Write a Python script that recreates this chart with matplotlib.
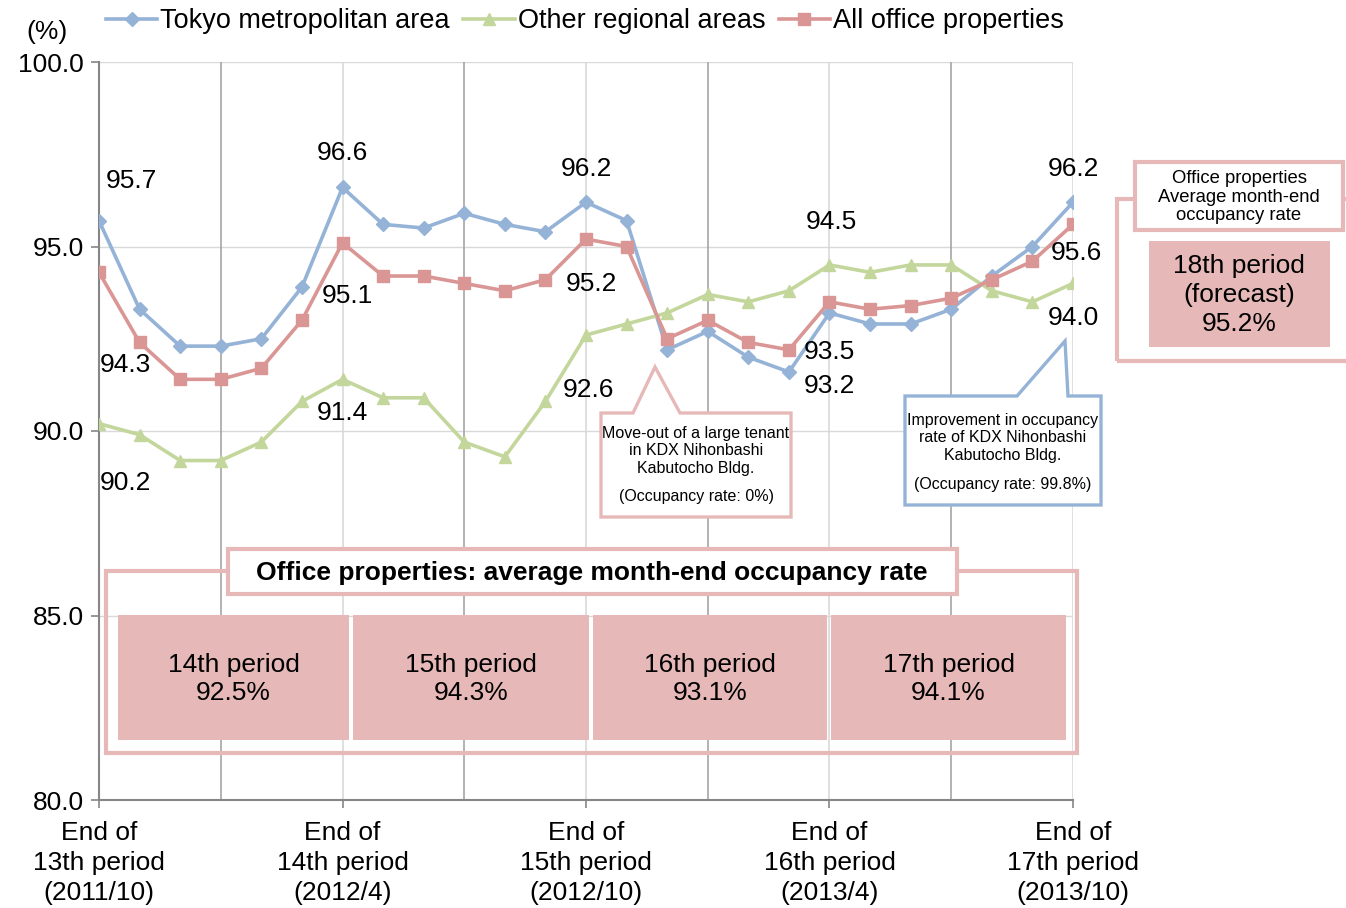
import numpy as np
import matplotlib.pyplot as plt
from matplotlib.patches import Rectangle, Polygon

plt.rcParams['font.family'] = ['Liberation Sans', 'DejaVu Sans']

# monthly data, 2011/10 .. 2013/10
tokyo = [95.7, 93.3, 92.3, 92.3, 92.5, 93.9, 96.6, 95.6, 95.5, 95.9, 95.6, 95.4, 96.2,
         95.7, 92.2, 92.7, 92.0, 91.6, 93.2, 92.9, 92.9, 93.3, 94.2, 95.0, 96.2]
regional = [90.2, 89.9, 89.2, 89.2, 89.7, 90.8, 91.4, 90.9, 90.9, 89.7, 89.3, 90.8, 92.6,
            92.9, 93.2, 93.7, 93.5, 93.8, 94.5, 94.3, 94.5, 94.5, 93.8, 93.5, 94.0]
all_office = [94.3, 92.4, 91.4, 91.4, 91.7, 93.0, 95.1, 94.2, 94.2, 94.0, 93.8, 94.1, 95.2,
              95.0, 92.5, 93.0, 92.4, 92.2, 93.5, 93.3, 93.4, 93.6, 94.1, 94.6, 95.6]
series_names = ['Tokyo metropolitan area', 'Other regional areas', 'All office properties']
xtick_labels = ['End of\n13th period\n(2011/10)', 'End of\n14th period\n(2012/4)',
                'End of\n15th period\n(2012/10)', 'End of\n16th period\n(2013/4)',
                'End of\n17th period\n(2013/10)']
periods = ['14th period', '15th period', '16th period', '17th period']
period_avg = [92.5, 94.3, 93.1, 94.1]
forecast_avg = 95.2

W, H = 1346, 908
BLUE = '#95b3d7'
GREEN = '#c3d69b'
RED = '#d99694'
PINK = '#e6b9b8'
FS = 19

fig = plt.figure(figsize=(W / 100, H / 100), dpi=100)
ax = fig.add_axes([99 / W, 1 - 800 / H, (1073 - 99) / W, (800 - 62) / H])

def fx(x):
    return x / W

def fy(y):
    return 1 - y / H

x = np.arange(len(tokyo))
ax.set_xlim(0, 24)
ax.set_ylim(80, 100)

# grid
for v in [85, 90, 95, 100]:
    ax.axhline(v, color='#d9d9d9', lw=1, zorder=0)
for v in range(3, 25, 3):
    ax.axvline(v, color='#a6a6a6' if v % 6 == 3 else '#d9d9d9', lw=1.2, zorder=0)

l1, = ax.plot(x, tokyo, color=BLUE, lw=2.6, marker='D', ms=7.5, label=series_names[0], zorder=3)
l2, = ax.plot(x, regional, color=GREEN, lw=2.6, marker='^', ms=9, label=series_names[1], zorder=3)
l3, = ax.plot(x, all_office, color=RED, lw=2.6, marker='s', ms=8, label=series_names[2], zorder=3)

# data labels at period ends (offsets in pixels)
idx = [0, 6, 12, 18, 24]
offs = {
    'tokyo': [(32, 40), (0, 34), (0, 33), (0, -73), (0, 33)],
    'all': [(26, -93), (5, -53), (5, -45), (0, -50), (3, -29)],
    'reg': [(26, -59), (0, -34), (2, -55), (2, 43), (0, -35)],
}
for key, ser in [('tokyo', tokyo), ('all', all_office), ('reg', regional)]:
    for i, (dx, dy) in zip(idx, offs[key]):
        ax.annotate(f'{ser[i]:.1f}', (x[i], ser[i]), xytext=(dx * 0.72, dy * 0.72),
                    textcoords='offset points', ha='center', va='center', fontsize=FS)

for s in ['top', 'right']:
    ax.spines[s].set_visible(False)
for s in ['left', 'bottom']:
    ax.spines[s].set_color('#868686')
    ax.spines[s].set_linewidth(1.5)
ax.set_yticks([80, 85, 90, 95, 100])
ax.set_yticklabels([f'{v:.1f}' for v in [80, 85, 90, 95, 100]], fontsize=FS)
ax.set_xticks(idx)
ax.set_xticklabels(xtick_labels, fontsize=FS, linespacing=1.32)
ax.tick_params(axis='both', color='#868686', length=6, width=1.2, pad=5)
ax.tick_params(axis='x', pad=9)
fig.text(fx(47), fy(32), '(%)', ha='center', va='center', fontsize=FS)

fig.legend(handles=[l1, l2, l3], loc='center left', bbox_to_anchor=(fx(106), fy(21)),
           ncol=3, frameon=False, fontsize=19.5, handlelength=1.9, handletextpad=0.1,
           columnspacing=0.5, borderaxespad=0, borderpad=0)

tf = fig.transFigure

def rect(x0, y0, x1, y1, fc, ec, lw, z=5):
    fig.add_artist(Rectangle((fx(x0), fy(y1)), fx(x1) - fx(x0), fy(y0) - fy(y1),
                             transform=tf, facecolor=fc, edgecolor=ec, lw=lw, zorder=z))

def poly(pts, ec, lw):
    fig.add_artist(Polygon([(fx(a), fy(b)) for a, b in pts], closed=True, transform=tf,
                           facecolor='white', edgecolor=ec, lw=lw, zorder=5))

# bottom summary box
rect(106, 571, 1077, 753, 'none', PINK, 3)
rect(228, 549, 957, 594, 'white', PINK, 3, z=6)
fig.text(fx(592), fy(573), 'Office properties: average month-end occupancy rate',
         ha='center', va='center', fontsize=19, fontweight='bold', zorder=7)
box_x = [(118, 349), (353, 589), (593, 827), (831, 1066)]
for (x0, x1), name, val in zip(box_x, periods, period_avg):
    rect(x0, 615, x1, 740, PINK, 'none', 0, z=6)
    fig.text(fx((x0 + x1) / 2), fy(679), f'{name}\n{val:.1f}%', ha='center', va='center',
             fontsize=FS, linespacing=1.25, zorder=7)

# callouts
poly([(601, 413), (633, 413), (655, 367), (680, 413), (791, 413), (791, 517), (601, 517)], PINK, 2.4)
fig.text(fx(696), fy(451), 'Move-out of a large tenant\nin KDX Nihonbashi\nKabutocho Bldg.',
         ha='center', va='center', fontsize=11.5, linespacing=1.2, zorder=7)
fig.text(fx(696), fy(497), '(Occupancy rate: 0%)', ha='center', va='center', fontsize=11.5, zorder=7)

poly([(905, 396), (1017, 396), (1065, 341), (1068, 396), (1101, 396), (1101, 505), (905, 505)], BLUE, 2.4)
fig.text(fx(1003), fy(438), 'Improvement in occupancy\nrate of KDX Nihonbashi\nKabutocho Bldg.',
         ha='center', va='center', fontsize=11.5, linespacing=1.2, zorder=7)
fig.text(fx(1003), fy(484), '(Occupancy rate: 99.8%)', ha='center', va='center', fontsize=11.5, zorder=7)

# forecast box on the right
rect(1117, 199, 1360, 361, 'none', PINK, 3)
rect(1135, 162, 1343, 230, 'white', PINK, 3, z=6)
fig.text(fx(1239), fy(197), 'Office properties\nAverage month-end\noccupancy rate',
         ha='center', va='center', fontsize=13.3, linespacing=1.15, zorder=7)
rect(1149, 241, 1330, 347, PINK, 'none', 0, z=6)
fig.text(fx(1239), fy(295), f'18th period\n(forecast)\n{forecast_avg:.1f}%',
         ha='center', va='center', fontsize=FS, linespacing=1.25, zorder=7)

fig.savefig('out.png', dpi=100)
